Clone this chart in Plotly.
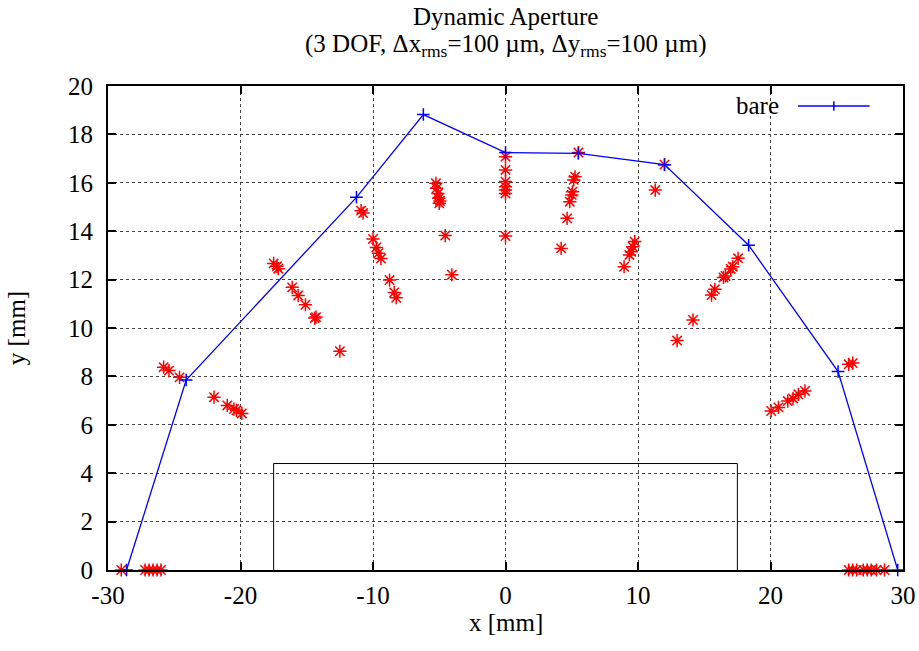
import plotly.graph_objects as go

# bare dynamic aperture (blue line)
bare_x = [-28.6, -24.1, -11.25, -6.2, 0.0, 5.5, 12.0, 18.35, 25.1, 29.6]
bare_y = [0.0, 7.85, 15.4, 18.82, 17.25, 17.22, 16.75, 13.42, 8.2, 0.0]

# error-seed points (red asterisks)
err_x = [-29.0, -27.2, -26.9, -26.6, -26.3, -26.0,
         -25.8, -25.4, -24.6,
         -22.0, -21.0, -20.5, -20.3, -19.9,
         -17.5, -17.15, -17.25, -16.1, -15.65, -15.1, -14.4, -14.3, -12.5,
         -10.9, -10.75, -10.0, -9.75, -9.6, -9.4, -8.75, -8.4, -8.25,
         -5.25, -5.2, -5.1, -5.05, -5.0, -4.95, -4.55, -4.05,
         0.0, 0.0, 0.0, 0.0, 0.0, 0.0, 0.0,
         5.5, 5.25, 5.15, 5.05, 5.0, 4.85, 4.65, 4.2,
         9.75, 9.6, 9.5, 9.35, 8.95, 11.3, 12.0,
         17.55, 17.15, 17.0, 16.6, 16.45, 15.8, 15.55, 14.15, 12.95,
         20.05, 20.6, 21.3, 21.7, 22.1, 22.6,
         25.9, 26.2,
         25.9, 26.2, 26.5, 27.0, 27.3, 27.6, 28.0, 28.6]
err_y = [0.0, 0.0, 0.0, 0.0, 0.0, 0.0,
         8.38, 8.24, 7.96,
         7.14, 6.8, 6.65, 6.6, 6.47,
         12.67, 12.45, 12.55, 11.68, 11.34, 10.96, 10.41, 10.45, 9.04,
         14.85, 14.75, 13.68, 13.33, 13.09, 12.87, 11.98, 11.47, 11.25,
         15.98, 15.77, 15.56, 15.36, 15.15, 15.25, 13.82, 12.2,
         17.08, 16.53, 16.05, 15.84, 15.7, 15.56, 13.8,
         17.25, 16.25, 16.12, 15.63, 15.5, 15.22, 14.53, 13.29,
         13.57, 13.36, 13.15, 13.02, 12.53, 15.7, 16.75,
         12.88, 12.53, 12.44, 12.15, 12.09, 11.6, 11.36, 10.33, 9.48,
         6.57, 6.72, 6.98, 7.09, 7.26, 7.4,
         8.5, 8.55,
         0.0, 0.0, 0.0, 0.0, 0.0, 0.0, 0.0, 0.0]

# beam-pipe box
box_x = [-17.5, -17.5, 17.5, 17.5]
box_y = [0.0, 4.4, 4.4, 0.0]

x_ticks = [-30, -20, -10, 0, 10, 20, 30]
x_tick_labels = ["-30", "-20", "-10", "0", "10", "20", "30"]
y_ticks = [0, 2, 4, 6, 8, 10, 12, 14, 16, 18, 20]
y_tick_labels = [str(v) for v in y_ticks]

FONT = "Liberation Serif, Times New Roman, serif"
FS = 25

fig = go.Figure()
fig.add_trace(go.Scatter(x=box_x, y=box_y, mode="lines",
                         line=dict(color="black", width=1), showlegend=False,
                         hoverinfo="skip"))
fig.add_trace(go.Scatter(x=err_x, y=err_y, mode="markers",
                         marker=dict(symbol="asterisk-open", size=11,
                                     line=dict(color="red", width=1.5), color="red"),
                         showlegend=False, cliponaxis=False))
fig.add_trace(go.Scatter(x=bare_x, y=bare_y, mode="lines+markers", name="bare",
                         line=dict(color="blue", width=1.3),
                         marker=dict(symbol="cross-thin-open", size=9,
                                     line=dict(color="blue", width=1.5)),
                         showlegend=False, cliponaxis=False))

# legend (gnuplot style: text, then sample on the right)
LX0, LX1, LY = 0.868, 0.958, 0.9587
fig.add_annotation(text="bare", xref="paper", yref="paper", x=0.8465, y=LY,
                   xanchor="right", yanchor="middle", showarrow=False,
                   font=dict(family=FONT, size=FS, color="black"))
fig.add_shape(type="line", xref="paper", yref="paper", x0=LX0, x1=LX1,
              y0=LY, y1=LY, line=dict(color="blue", width=1.3))
LXM = (LX0 + LX1) / 2
fig.add_shape(type="line", xref="paper", yref="paper", x0=LXM, x1=LXM,
              y0=LY - 0.01, y1=LY + 0.01, line=dict(color="blue", width=1.5))

# title as two annotations
fig.add_annotation(text="Dynamic Aperture",
                   xref="paper", yref="paper", x=0.5, y=1.144, xanchor="center",
                   yanchor="middle", showarrow=False,
                   font=dict(family=FONT, size=FS, color="black"))
fig.add_annotation(text="(3 DOF, Δx<sub>rms</sub>=100 µm, Δy<sub>rms</sub>=100 µm)",
                   xref="paper", yref="paper", x=0.5, y=1.084, xanchor="center",
                   yanchor="middle", showarrow=False,
                   font=dict(family=FONT, size=FS, color="black"))

# x-axis title
fig.add_annotation(text="x [mm]", xref="paper", yref="paper", x=0.5, y=-0.108,
                   xanchor="center", yanchor="middle", showarrow=False,
                   font=dict(family=FONT, size=FS, color="black"))

axis_common = dict(showline=True, linecolor="black", linewidth=2, mirror="ticks",
                   ticks="inside", ticklen=8, tickwidth=1.5, tickcolor="black",
                   showgrid=True, gridcolor="#444", griddash="dot", gridwidth=1,
                   zeroline=False, automargin=False,
                   tickfont=dict(family=FONT, size=FS, color="black"),
                   title_font=dict(family=FONT, size=FS, color="black"))

fig.update_xaxes(range=[-30, 30], tickvals=x_ticks, ticktext=x_tick_labels,
                 ticklabelstandoff=2, **axis_common)
fig.update_yaxes(range=[0, 20], tickvals=y_ticks, ticktext=y_tick_labels,
                 title_text="y [mm]", title_standoff=35, ticklabelstandoff=8,
                 **axis_common)

fig.update_layout(
    width=919, height=651,
    margin=dict(l=108, r=16, t=86, b=81),
    paper_bgcolor="white", plot_bgcolor="white",
    font=dict(family=FONT, size=FS, color="black"),
    showlegend=False,
)

fig.write_html("out.html")
